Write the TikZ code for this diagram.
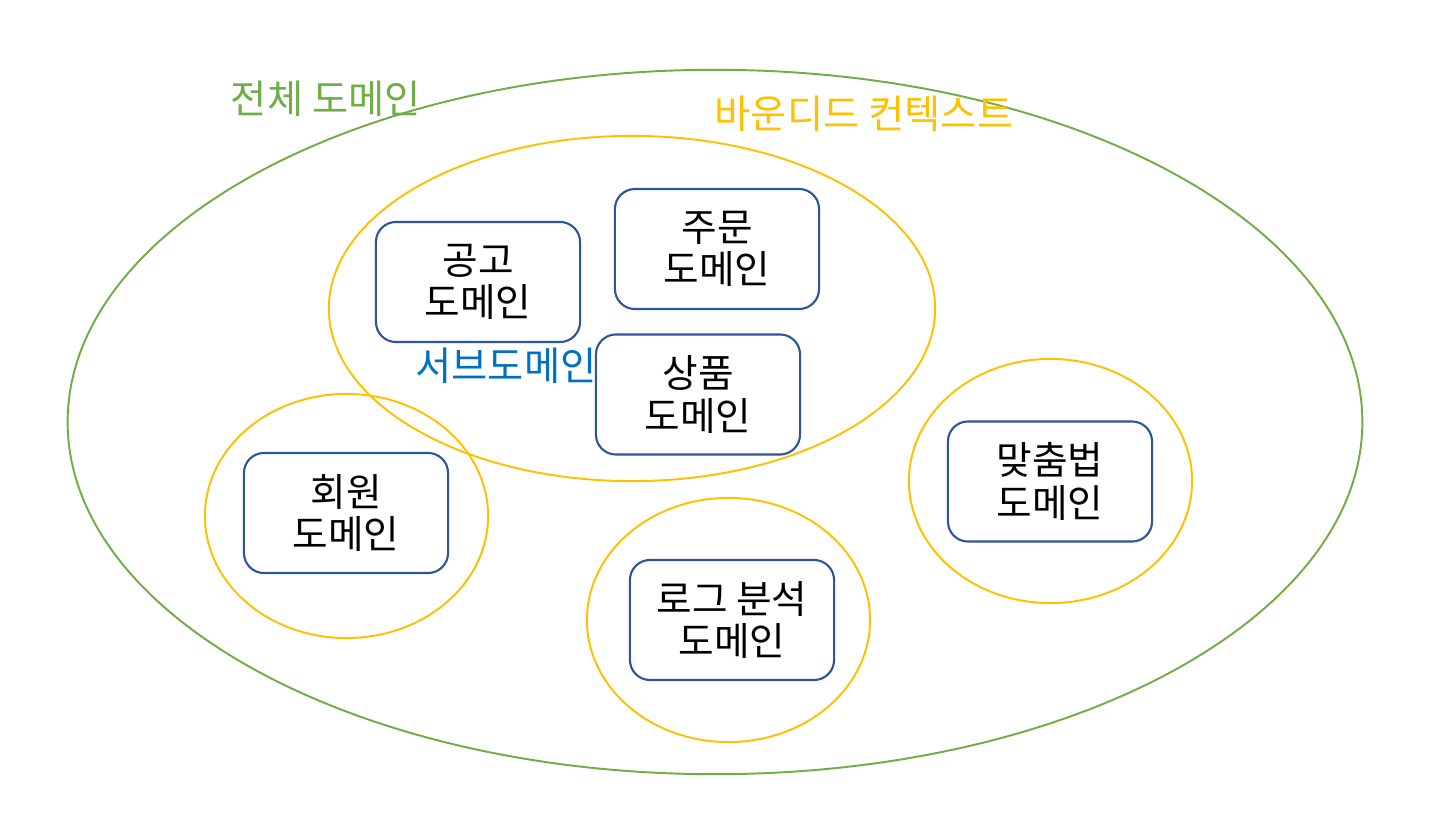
\documentclass[tikz,border=0pt]{standalone}
\usepackage{fontspec}
\setmainfont{Noto Sans CJK KR}
\usetikzlibrary{shapes.geometric}
\definecolor{domgreen}{HTML}{70AD47}
\definecolor{ctxyellow}{HTML}{FFC000}
\definecolor{boxblue}{HTML}{2F5597}
\definecolor{subblue}{HTML}{0070C0}
\begin{document}
\begin{tikzpicture}[
  x=0.01cm, y=-0.01cm,
  area/.style={ellipse, draw, line width=0.55pt, inner sep=0pt},
  context/.style={area, draw=ctxyellow, minimum width=2.83cm, minimum height=2.44cm},
  dombox/.style={rectangle, rounded corners=0.2cm, draw=boxblue, line width=0.6pt, fill=white, minimum width=2.04cm, minimum height=1.2cm, align=center, font=\fontsize{11}{12}\selectfont},
  tag/.style={font=\fontsize{11.2}{12}\selectfont, inner sep=0pt}
]
\useasboundingbox (0,0) rectangle (1447,821);

\node[area, draw=domgreen, minimum width=12.94cm, minimum height=7.04cm] (whole) at (715,422) {};
\node[area, draw=ctxyellow, minimum width=6.06cm, minimum height=3.45cm] (bigctx) at (632,308.5) {};
\node[context] (memberctx) at (346.5,516) {};
\node[context] (logctx) at (728.5,620) {};
\node[context] (spellctx) at (1050.5,481) {};

\node[dombox] (ad) at (478,282) {공고\\도메인};
\node[dombox] (order) at (717,249) {주문\\도메인};
\node[dombox] (product) at (698,394.5) {상품\\도메인};
\node[dombox] (member) at (346,513) {회원\\도메인};
\node[dombox] (log) at (732,620) {로그 분석\\도메인};
\node[dombox] (spell) at (1050,481.5) {맞춤법\\도메인};

% Labels
\node[tag, text=domgreen] (wholelabel) at (326,99) {전체 도메인};
\node[tag, text=ctxyellow] (ctxlabel) at (864,114) {바운디드 컨텍스트};
\node[tag, text=subblue] (sublabel) at (506,366) {서브도메인};
\end{tikzpicture}
\end{document}
